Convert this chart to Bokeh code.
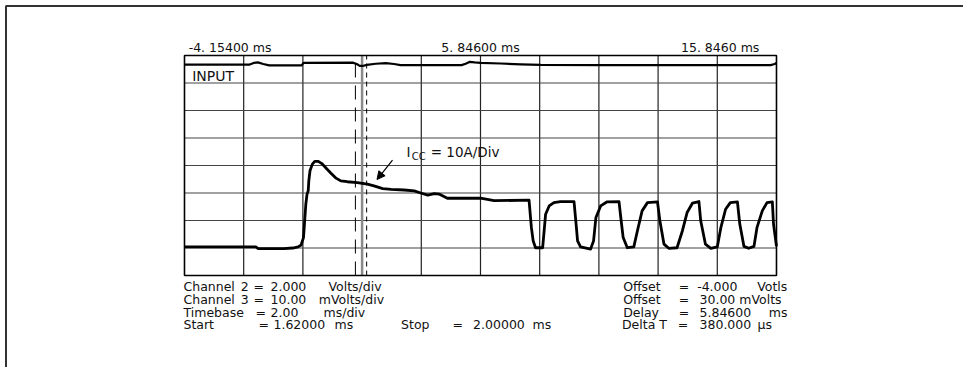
from bokeh.plotting import figure
from bokeh.models import Label, Arrow, NormalHead, Range1d
from bokeh.embed import file_html
from bokeh.resources import INLINE

# ---- data (x in divisions 0..10, y in divisions 0..8) ----
grid_x_ticks = [1, 2, 4, 5, 6, 7, 8, 9]
grid_y_ticks = [1, 2, 3, 4, 5, 6, 7]
center_div = 3

time_labels = ["-4. 15400 ms", "5. 84600 ms", "15. 8460 ms"]
t_start_ms = -4.154
timebase_ms = 2.0
cursor_start_ms = 1.62
cursor_stop_ms = 2.0

input_x = [0, 1.10, 1.17, 1.24, 1.33, 1.43, 1.58, 1.98, 2.01, 2.84, 2.91, 2.96, 3.01, 3.08,
           3.23, 3.40, 3.54, 3.65, 4.16, 4.68, 4.75, 4.82, 4.90, 5.00, 5.34, 5.68, 6.02,
           7.03, 8.72, 9.90, 9.97, 10.0]
input_y = [7.67, 7.67, 7.73, 7.75, 7.69, 7.64, 7.64, 7.64, 7.73, 7.74, 7.69, 7.62, 7.62, 7.66,
           7.70, 7.72, 7.69, 7.65, 7.65, 7.65, 7.70, 7.77, 7.75, 7.73, 7.71, 7.68, 7.66,
           7.65, 7.65, 7.65, 7.69, 7.73]

icc_x = [0, 1.21, 1.24, 1.68, 1.83, 1.92, 1.97, 2.01, 2.03, 2.05, 2.07, 2.09, 2.10, 2.12,
         2.16, 2.20, 2.26, 2.32, 2.39, 2.47, 2.56, 2.64, 2.75, 2.92, 3.09, 3.20, 3.35, 3.49,
         3.71, 3.88, 3.99, 4.11, 4.22, 4.30, 4.44, 4.61, 4.84, 5.00, 5.23, 5.82,
         5.86, 5.89, 5.93, 6.05, 6.07, 6.10, 6.16, 6.24, 6.35, 6.58,
         6.61, 6.64, 6.69, 6.86, 6.91, 6.95, 7.03, 7.14, 7.34,
         7.37, 7.41, 7.48, 7.59, 7.65, 7.73, 7.82, 7.99,
         8.03, 8.10, 8.18, 8.32, 8.41, 8.49, 8.58, 8.69,
         8.72, 8.80, 8.89, 9.00, 9.06, 9.14, 9.22, 9.34,
         9.38, 9.45, 9.53, 9.62, 9.67, 9.76, 9.84, 9.93, 9.95, 10.0]
icc_y = [1.04, 1.04, 0.98, 0.98, 1.00, 1.04, 1.11, 1.38, 1.99, 2.60, 2.96, 3.08, 3.44, 3.81,
         4.05, 4.15, 4.15, 4.07, 3.91, 3.73, 3.54, 3.44, 3.41, 3.38, 3.32, 3.26, 3.16, 3.13,
         3.11, 3.08, 3.00, 2.92, 2.98, 2.96, 2.81, 2.81, 2.81, 2.81, 2.72, 2.74,
         1.74, 1.26, 1.01, 1.01, 1.50, 2.23, 2.53, 2.65, 2.69, 2.69,
         1.99, 1.26, 1.04, 0.96, 1.26, 2.11, 2.53, 2.68, 2.69,
         2.11, 1.38, 1.01, 1.04, 1.62, 2.35, 2.65, 2.68,
         1.99, 1.14, 0.99, 1.01, 1.62, 2.29, 2.63, 2.69,
         1.99, 1.14, 0.99, 1.04, 1.74, 2.41, 2.65, 2.68,
         1.87, 1.06, 0.99, 1.06, 1.74, 2.35, 2.65, 2.68, 1.87, 1.06]

FONT = "DejaVu Sans"
INK = "#111111"

# whole canvas is the data frame; the scope grid occupies x 0..10, y 0..8
X0, X1 = -3.108, 13.159
Y0, Y1 = -3.345, 10.0
p = figure(width=963, height=367, x_range=Range1d(X0, X1), y_range=Range1d(Y0, Y1),
           x_axis_location=None, y_axis_location=None, toolbar_location=None,
           output_backend="svg", min_border=0)
p.grid.visible = False
p.outline_line_color = None
p.background_fill_color = "white"
p.border_fill_color = "white"

# outer picture frame (top and left edges)
FX, FY = -3.015, 9.80
p.line([FX, FX, X1], [Y0, FY, FY], line_color="#333333", line_width=2)

# grid
p.segment(x0=grid_x_ticks, y0=[0] * len(grid_x_ticks), x1=grid_x_ticks,
          y1=[8] * len(grid_x_ticks), line_color="#222222", line_width=1.2)
p.segment(x0=[0] * len(grid_y_ticks), y0=grid_y_ticks, x1=[10] * len(grid_y_ticks),
          y1=grid_y_ticks, line_color="#444444", line_width=1.2)
p.segment(x0=[center_div], y0=[0], x1=[center_div], y1=[8], line_color="#8a8a8a", line_width=2.5)
p.quad(left=[0], right=[10], bottom=[0], top=[8], fill_color=None,
       line_color="black", line_width=1.6)

c1 = (cursor_start_ms - t_start_ms) / timebase_ms
c2 = (cursor_stop_ms - t_start_ms) / timebase_ms
p.segment(x0=[c1], y0=[0], x1=[c1], y1=[8], line_color="black", line_width=1, line_dash="14 8")
p.segment(x0=[c2], y0=[0], x1=[c2], y1=[8], line_color="black", line_width=1, line_dash="5 4")

p.line(input_x, input_y, line_color="black", line_width=2.2, line_join="round")
p.line(icc_x, icc_y, line_color="black", line_width=2.8, line_join="round")


def lab(x, y, text, size=12.5, align="left", font=FONT):
    p.add_layout(Label(x=x, y=y, text=text, text_font=font, text_font_size=f"{size}px",
                       text_color=INK, text_align=align, text_baseline="middle"))


# top time labels
lab(0.07, 8.29, time_labels[0])
lab(5.0, 8.29, time_labels[1], align="center")
lab(9.71, 8.29, time_labels[2], align="right")

lab(0.13, 7.27, "INPUT", size=14)

# Icc label and arrow
lab(3.75, 4.49, "I", size=13.5)
lab(3.84, 4.33, "CC", size=10)
lab(4.16, 4.49, "= 10A/Div", size=13.5)
p.add_layout(Arrow(x_start=3.514, y_start=4.20, x_end=3.252, y_end=3.49,
                   line_color="black", line_width=1.2,
                   end=NormalHead(size=8, fill_color="black", line_color="black")))

# bottom-left block
rows = [-0.40, -0.873, -1.327, -1.782]
lab(-0.017, rows[0], "Channel")
lab(0.95, rows[0], "2")
lab(1.166, rows[0], "=")
lab(1.453, rows[0], "2.000")
lab(2.432, rows[0], "Volts/div")

lab(-0.017, rows[1], "Channel")
lab(0.95, rows[1], "3")
lab(1.166, rows[1], "=")
lab(1.453, rows[1], "10.00")
lab(2.269, rows[1], "mVolts/div")

lab(-0.017, rows[2], "Timebase")
lab(1.20, rows[2], "=")
lab(1.453, rows[2], "2.00")
lab(2.348, rows[2], "ms/div")

lab(-0.017, rows[3], "Start")
lab(1.25, rows[3], "=")
lab(1.503, rows[3], "1.62000")
lab(2.534, rows[3], "ms")
lab(3.659, rows[3], "Stop")
lab(4.527, rows[3], "=")
lab(4.875, rows[3], "2.00000")
lab(5.878, rows[3], "ms")

# bottom-right block
lab(7.41, rows[0], "Offset")
lab(8.35, rows[0], "=")
lab(8.66, rows[0], "-4.000")
lab(9.674, rows[0], "Votls")

lab(7.41, rows[1], "Offset")
lab(8.35, rows[1], "=")
lab(8.70, rows[1], "30.00 mVolts")

lab(7.41, rows[2], "Delay")
lab(8.35, rows[2], "=")
lab(8.70, rows[2], "5.84600")
lab(9.87, rows[2], "ms")

lab(7.39, rows[3], "Delta T")
lab(8.33, rows[3], "=")
lab(8.70, rows[3], "380.000")
lab(9.68, rows[3], "μs")

open("out.html", "w").write(file_html(p, INLINE))
